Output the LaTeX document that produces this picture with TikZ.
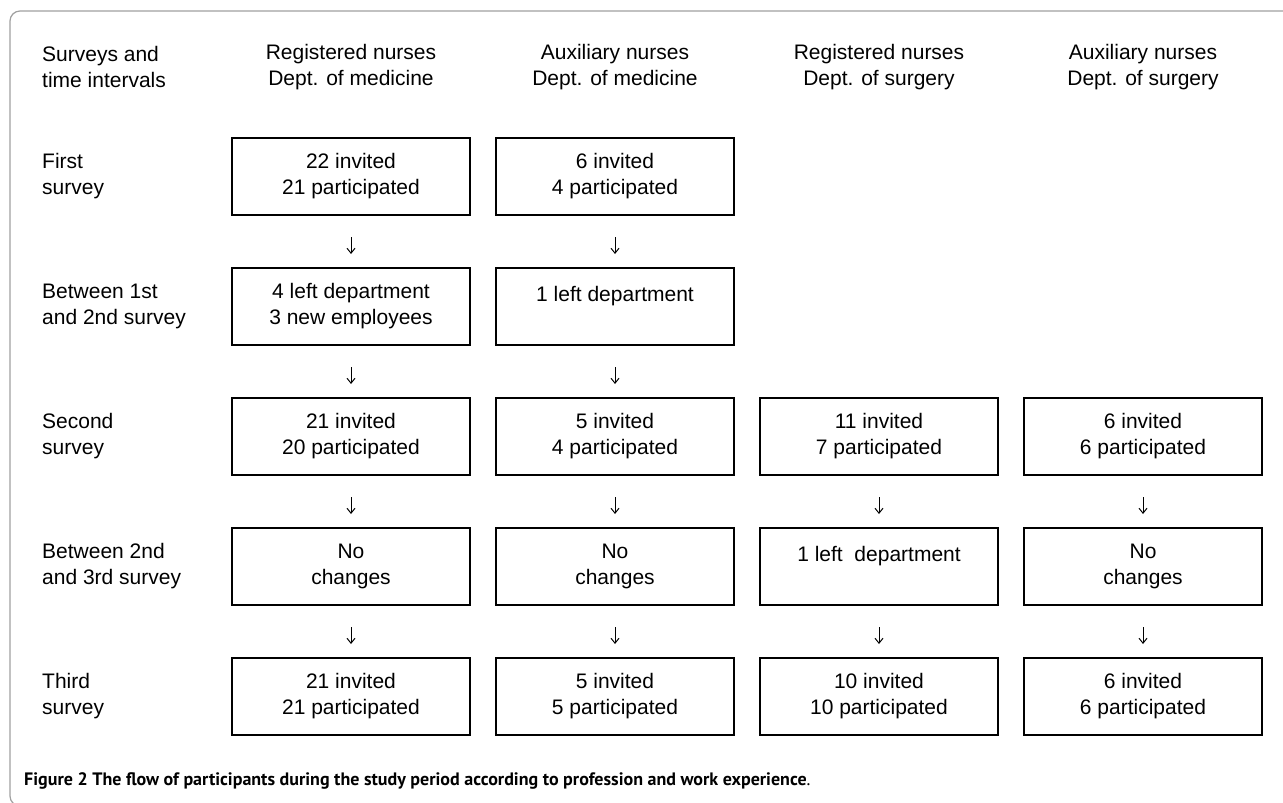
\documentclass[tikz,border=0pt]{standalone}
\usepackage{fontspec}
\setmainfont{Liberation Sans}
\newfontfamily\capfont{PT Sans}
\usetikzlibrary{arrows.meta}
\definecolor{framegray}{HTML}{A0A0A0}
\begin{document}
\begin{tikzpicture}[x=1pt,y=-1pt,
  every node/.style={font=\fontsize{21}{26}\selectfont, inner sep=0pt},
  box/.style={draw, line width=2pt, minimum width=238pt, minimum height=77pt, align=center},
  lbl/.style={anchor=west, align=left},
  hdr/.style={align=center},
  arr/.style={line width=1pt, -{Straight Barb[length=5pt,width=8pt]}, shorten <=21pt, shorten >=13pt}]
\useasboundingbox (0,0) rectangle (1283,803);
\clip (0,0) rectangle (1283,803);
% frame
\draw[framegray, line width=1.2pt, rounded corners=10pt] (1300,11) -- (10,11) -- (10,806) -- (1300,806);
% headers
\node[lbl] (h0) at (42,67) {Surveys and\\time intervals};
\node[hdr] (h1) at (351,67) {Registered nurses\\Dept. of medicine};
\node[hdr] (h2) at (615,67) {Auxiliary nurses\\Dept. of medicine};
\node[hdr] (h3) at (879,67) {Registered nurses\\Dept. of surgery};
\node[hdr] (h4) at (1143,67) {Auxiliary nurses\\Dept. of surgery};
% row labels
\node[lbl] (l1) at (42,176.5) {First\\survey};
\node[lbl] (l2) at (42,306.5) {Between 1st\\and 2nd survey};
\node[lbl] (l3) at (42,436.5) {Second\\survey};
\node[lbl] (l4) at (42,566.5) {Between 2nd\\and 3rd survey};
\node[lbl] (l5) at (42,696.5) {Third\\survey};
% row 1
\node[box] (r1c1) at (351,176.5) {22 invited\\21 participated};
\node[box] (r1c2) at (615,176.5) {6 invited\\4 participated};
% row 2
\node[box] (r2c1) at (351,306.5) {4 left department\\3 new employees};
\node[box] (r2c2) at (615,306.5) {1 left department\\\mbox{}};
% row 3
\node[box] (r3c1) at (351,436.5) {21 invited\\20 participated};
\node[box] (r3c2) at (615,436.5) {5 invited\\4 participated};
\node[box] (r3c3) at (879,436.5) {11 invited\\7 participated};
\node[box] (r3c4) at (1143,436.5) {6 invited\\6 participated};
% row 4
\node[box] (r4c1) at (351,566.5) {No\\changes};
\node[box] (r4c2) at (615,566.5) {No\\changes};
\node[box] (r4c3) at (879,566.5) {1 left\ \ department\\\mbox{}};
\node[box] (r4c4) at (1143,566.5) {No\\changes};
% row 5
\node[box] (r5c1) at (351,696.5) {21 invited\\21 participated};
\node[box] (r5c2) at (615,696.5) {5 invited\\5 participated};
\node[box] (r5c3) at (879,696.5) {10 invited\\10 participated};
\node[box] (r5c4) at (1143,696.5) {6 invited\\6 participated};
% arrows
\draw[arr] (r1c1) -- (r2c1);
\draw[arr] (r2c1) -- (r3c1);
\draw[arr] (r3c1) -- (r4c1);
\draw[arr] (r4c1) -- (r5c1);
\draw[arr] (r1c2) -- (r2c2);
\draw[arr] (r2c2) -- (r3c2);
\draw[arr] (r3c2) -- (r4c2);
\draw[arr] (r4c2) -- (r5c2);
\draw[arr] (r3c3) -- (r4c3);
\draw[arr] (r4c3) -- (r5c3);
\draw[arr] (r3c4) -- (r4c4);
\draw[arr] (r4c4) -- (r5c4);
% caption
\node[anchor=base west, font=\capfont\fontsize{18}{21}\selectfont] (cap) at (24,785) {\textbf{Figure 2 The flow of participants during the study period according to profession and work experience}.};
\end{tikzpicture}
\end{document}
